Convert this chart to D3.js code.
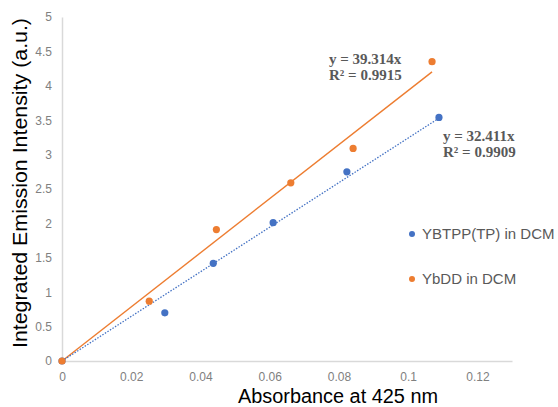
<!DOCTYPE html>
<html>
<head>
<meta charset="utf-8">
<script src="https://cdn.jsdelivr.net/npm/d3@7"></script>
<style>
  html, body { margin: 0; padding: 0; background: #fff; }
  svg { display: block; }
</style>
</head>
<body>
<svg id="chart" width="558" height="407"></svg>
<script>
// ---- data ----
const seriesNames = ["YBTPP(TP) in DCM", "YbDD in DCM"];
const blueX = [0, 0.0297, 0.0437, 0.0610, 0.0823, 0.1089];
const blueY = [0, 0.70, 1.42, 2.01, 2.75, 3.54];
const orangeX = [0, 0.0252, 0.0446, 0.0661, 0.0841, 0.1069];
const orangeY = [0, 0.87, 1.91, 2.59, 3.09, 4.35];
const blueSlope = 32.411;
const orangeSlope = 39.314;
const blueEq = ["y = 32.411x", "R² = 0.9909"];
const orangeEq = ["y = 39.314x", "R² = 0.9915"];
const xTicks = [0, 0.02, 0.04, 0.06, 0.08, 0.1, 0.12];
const yTicks = [0, 0.5, 1, 1.5, 2, 2.5, 3, 3.5, 4, 4.5, 5];
const xTitle = "Absorbance at 425 nm";
const yTitle = "Integrated Emission Intensity (a.u.)";

const BLUE = "#4472C4", ORANGE = "#ED7D31";

const svg = d3.select("#chart");
const x = d3.scaleLinear().domain([0, 0.13]).range([62, 512]);
const y = d3.scaleLinear().domain([0, 5]).range([361, 17]);

const fmt = d => String(+d.toFixed(2));

// axes
const xAxis = svg.append("g").attr("transform", `translate(0,${y(0)})`)
  .call(d3.axisBottom(x).tickValues(xTicks).tickFormat(fmt).tickSize(0).tickPadding(11));
const yAxis = svg.append("g").attr("transform", `translate(${x(0)},0)`)
  .call(d3.axisLeft(y).tickValues(yTicks).tickFormat(fmt).tickSize(0).tickPadding(10));
[xAxis, yAxis].forEach(g => {
  g.select(".domain").attr("stroke", "#d9d9d9").attr("stroke-width", 1.5);
  g.selectAll("text").attr("fill", "#808080").attr("font-family", "Liberation Sans, Arial, sans-serif").attr("font-size", 12);
});

// trendlines
const line = d3.line().x(d => x(d[0])).y(d => y(d[1]));
svg.append("path")
  .datum([[0, 0], [d3.max(orangeX), orangeSlope * d3.max(orangeX)]])
  .attr("d", line).attr("fill", "none").attr("stroke", ORANGE).attr("stroke-width", 1.4);
svg.append("path")
  .datum([[0, 0], [d3.max(blueX), blueSlope * d3.max(blueX)]])
  .attr("d", line).attr("fill", "none").attr("stroke", BLUE).attr("stroke-width", 1.3)
  .attr("stroke-dasharray", "1.5 1.5");

// points
svg.append("g").selectAll("circle").data(blueX.map((v, i) => [v, blueY[i]]))
  .join("circle").attr("cx", d => x(d[0])).attr("cy", d => y(d[1])).attr("r", 3.6).attr("fill", BLUE);
svg.append("g").selectAll("circle").data(orangeX.map((v, i) => [v, orangeY[i]]))
  .join("circle").attr("cx", d => x(d[0])).attr("cy", d => y(d[1])).attr("r", 3.6).attr("fill", ORANGE);

// equations
function eq(lines, px, py) {
  const t = svg.append("text").attr("font-family", "Liberation Serif, Times New Roman, serif")
    .attr("font-weight", "bold").attr("font-size", 15).attr("fill", "#595959");
  lines.forEach((s, i) => t.append("tspan").attr("x", px).attr("y", py + i * 16).text(s));
}
eq(orangeEq, 329, 64);
eq(blueEq, 443, 141);

// legend
const legend = svg.append("g");
[[BLUE, seriesNames[0], 234], [ORANGE, seriesNames[1], 279]].forEach(([c, name, ly]) => {
  legend.append("circle").attr("cx", 412).attr("cy", ly).attr("r", 3).attr("fill", c);
  legend.append("text").attr("x", 422).attr("y", ly + 5).text(name)
    .attr("font-family", "Liberation Sans, Arial, sans-serif").attr("font-size", 15).attr("fill", "#595959");
});

// titles
svg.append("text").attr("x", 238).attr("y", 403).text(xTitle)
  .attr("font-family", "Liberation Sans, Arial, sans-serif").attr("font-size", 20).attr("fill", "#000")
  .attr("textLength", 200).attr("lengthAdjust", "spacingAndGlyphs");
svg.append("text").attr("transform", "translate(27,183) rotate(-90)").attr("text-anchor", "middle")
  .text(yTitle)
  .attr("font-family", "Liberation Sans, Arial, sans-serif").attr("font-size", 20).attr("fill", "#000")
  .attr("textLength", 330).attr("lengthAdjust", "spacingAndGlyphs");
</script>
</body>
</html>
